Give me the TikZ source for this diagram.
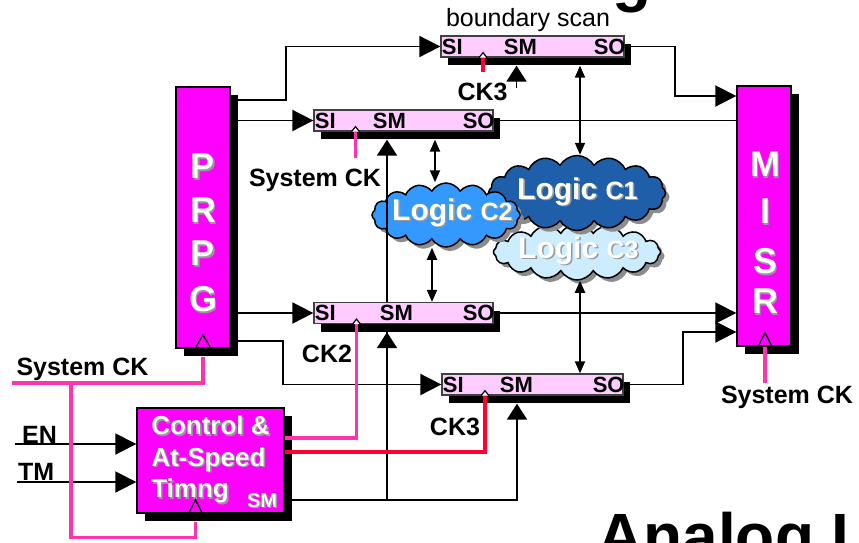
\documentclass[tikz,border=0pt]{standalone}
\usepackage{fontspec}
\setmainfont{Liberation Sans}
\usetikzlibrary{arrows.meta,calc,shapes.symbols,shadows}
\definecolor{blkmag}{RGB}{255,0,255}
\definecolor{regpink}{RGB}{255,204,255}
\definecolor{clkpink}{RGB}{255,51,170}
\definecolor{clkredc}{RGB}{255,0,51}
\definecolor{logicone}{RGB}{31,95,170}
\definecolor{logictwo}{RGB}{51,153,255}
\definecolor{logicthree}{RGB}{204,236,255}

\pgfdeclarelayer{clouds}
\pgfdeclarelayer{wires}
\pgfsetlayers{clouds,wires,main}

% white text with a grey drop shadow
\newcommand{\shtxt}[1]{\leavevmode\rlap{\kern1.6pt\raisebox{-1.6pt}{\textcolor{black!40}{#1}}}\textcolor{white}{#1}}

\tikzset{
  blockbox/.style={draw=black, line width=1.4pt, fill=blkmag, inner sep=0pt,
    general shadow={fill=black, shadow xshift=8pt, shadow yshift=-8pt}},
  blocktxt/.style={inner sep=0pt, font=\fontsize{36}{40}\selectfont\bfseries},
  regbox/.style={draw=black!75, line width=1.3pt, fill=regpink, minimum height=21pt, inner sep=0pt,
    general shadow={fill=black, shadow xshift=7pt, shadow yshift=-8pt}},
  reglbl/.style={inner sep=0pt, font=\fontsize{22}{26}\selectfont\bfseries},
  logic/.style={cloud, cloud puffs=16, cloud puff arc=120, cloud ignores aspect, draw=black,
    line width=1.5pt, inner sep=0pt,
    general shadow={fill=black!45, shadow xshift=4pt, shadow yshift=-4pt}},
  logictxt/.style={inner sep=0pt, anchor=base west, font=\fontsize{30}{36}\selectfont\bfseries},
  lbl/.style={inner sep=0pt, anchor=base, font=\fontsize{25}{30}\selectfont\bfseries},
  wire/.style={line width=1.9pt},
  sig/.style={wire, -{Triangle[length=21pt,width=21pt]}},
  smsig/.style={wire, -{Triangle[length=16pt,width=20pt]}},
  dbl/.style={wire, {Triangle[length=12pt,width=10pt]}-{Triangle[length=12pt,width=10pt]}},
  clkline/.style={line width=3.5pt, clkpink},
  clkred/.style={line width=3.5pt, clkredc},
  clkmark/.style={draw=black, line width=1.2pt, fill=white},
}

\begin{document}
\begin{tikzpicture}[x=1pt,y=-1pt]
    \useasboundingbox (0,0) rectangle (859,542);

    % blocks
    \node[blockbox, minimum width=54pt, minimum height=261pt] (prpg) at (203,217.5) {};
    \foreach \ltr/\yy [count=\i] in {P/167,R/211,P/254,G/300}
        \node[blocktxt] (prpg\i) at (203,\yy) {\shtxt{\ltr}};
    \node[blockbox, minimum width=54pt, minimum height=260pt] (misr) at (764,216) {};
    \foreach \ltr/\yy [count=\i] in {M/165,I/212,S/262,R/302}
        \node[blocktxt] (misr\i) at (765,\yy) {\shtxt{\ltr}};
    \node[blockbox, minimum width=147pt, minimum height=105pt, align=left,
          font=\fontsize{26}{31.5}\selectfont\bfseries] (ctrl) at (210.5,460.5)
          {\shtxt{Control \&}\\\shtxt{At-Speed}\\\shtxt{Timng}};
    \node[inner sep=0pt, font=\fontsize{20}{24}\selectfont\bfseries] (ctrlsm) at (262,501) {\shtxt{SM}};

    % scan registers
    \node[regbox, minimum width=183pt] (regA) at (532.5,46.5) {};
    \node[regbox, minimum width=179pt] (regB) at (403.5,120.5) {};
    \node[regbox, minimum width=179pt] (regC) at (403.5,313) {};
    \node[regbox, minimum width=181pt] (regD) at (532.5,384.5) {};
    \foreach \rg/\smx in {regA/80,regB/76,regC/83,regD/75} {
        \node[reglbl] (\rg-si) at ($(\rg.west)+(12,0)$) {SI};
        \node[reglbl] (\rg-sm) at ($(\rg.west)+(\smx,0)$) {SM};
        \node[reglbl] (\rg-so) at ($(\rg.east)+(-15,0)$) {SO};
        \coordinate (\rg-sh) at ($(\rg.south)+(0,8)$);
    }

    % logic clouds
    \begin{pgfonlayer}{clouds}
        \node[logic, fill=logicthree, minimum width=167pt, minimum height=56pt] (c3) at (577,252) {};
        \node[logictxt] (c3txt) at (518,258) {\shtxt{Logic {\fontsize{25}{30}\selectfont C3}}};
        \node[logic, fill=logicone, minimum width=177pt, minimum height=75pt] (c1) at (577,193) {};
        \node[logictxt] (c1txt) at (517,199) {\shtxt{Logic {\fontsize{25}{30}\selectfont C1}}};
        \node[logic, fill=logictwo, minimum width=148pt, minimum height=64pt] (c2) at (446,215) {};
        \node[logictxt] (c2txt) at (392,220) {\shtxt{Logic {\fontsize{25}{30}\selectfont C2}}};
    \end{pgfonlayer}

    \coordinate (en) at (15,444);
    \coordinate (tm) at (17,482);
    \coordinate (smtap) at (387,500);
    \coordinate (sysck) at (12,383);

    \begin{pgfonlayer}{wires}
        \draw[sig] (prpg.east |- 0,100) -- ++(55,0) |- (regA.west);
        \draw[sig] (prpg.east |- regB.west) -- (regB.west);
        \draw[sig] (prpg.east |- regC.west) -- (regC.west);
        \draw[sig] (prpg.east |- 0,341) -- ++(52,0) |- (regD.west);
        \draw[sig] (regA.east) -- ++(50,0) |- (misr.west |- 0,96);
        \draw[wire] (regB.east) -- (regB.east -| misr.west);
        \draw[sig] (regC.east) -- (regC.east -| misr.west);
        \draw[sig] (regD.east) -- ++(59,0) |- (misr.west |- 0,332);
        \draw[sig] (en) -- (en -| ctrl.west);
        \draw[sig] (tm) -- (tm -| ctrl.west);
        \draw[smsig] (ctrl.east |- smtap) -| ($(regD-sh)+(-15.5,0)$);
        \draw[smsig] (smtap) -- (regC-sh -| smtap);
        \draw[smsig] (smtap) -- (regB-sh -| smtap);
        \draw[smsig] ($(regA-sh)+(-16,22)$) -- ($(regA-sh)+(-16,0)$);
        \draw[dbl] (regA-sh -| 580,0) -- (c1.north -| 580,0);
        \draw[dbl] (regB-sh -| 435,0) -- (c2.north -| 435,0);
        \draw[dbl] (c2.south -| 432,0) -- (regC.north -| 432,0);
        \draw[dbl] (c3.south -| 580,0) -- (regD.north -| 580,0);
    \end{pgfonlayer}

    % clocks
    \draw[clkline] (sysck) -| ($(prpg.south)+(0,8)$);
    \draw[clkline] ($(ctrl.south)+(-15,8)$) -- ++(0,16) -| ($(sysck)+(59,0)$);
    \draw[clkline] ($(misr.south)+(1,0)$) -- ++(0,36);
    \draw[clkline] ($(regB.south)+(-48,0)$) -- ++(0,26);
    \draw[clkred] ($(regA.south)+(-49.5,0)$) -- ++(0,14);
    \draw[clkline] (ctrl.east |- 0,438) -| ($(regC.south)+(-47,0)$);
    \draw[clkred] (ctrl.east |- 0,452) -| ($(regD.south)+(-47.5,0)$);
    \draw[line width=1.3pt] ($(prpg.south)+(-8,0)$) -- ++(8,-14) -- ++(8,14);
    \draw[line width=1.3pt] ($(misr.south)+(-6,0)$) -- ++(7,-14) -- ++(7,14);
    \draw[line width=1.3pt] ($(ctrl.south)+(-22,0)$) -- ++(7,-14) -- ++(7,14);
    \foreach \rg/\ck in {regA/-49.5,regB/-48,regC/-47,regD/-47.5}
        \draw[clkmark] ($(\rg.south)+(\ck-4,0)$) -- ++(4,-5) -- ++(4,5);

    % labels
    \node[lbl, font=\fontsize{25}{30}\selectfont] (bscan) at (528,26) {boundary scan};
    \node[lbl] (ck3a) at (482.5,100) {CK3};
    \node[lbl] (sysckb) at (315,186) {System CK};
    \node[lbl] (ck2) at (327,362) {CK2};
    \node[lbl] (ck3b) at (455,435) {CK3};
    \node[lbl] (syscka) at (82.5,375) {System CK};
    \node[lbl] (sysckc) at (787,403) {System CK};
    \node[lbl, anchor=base west] (enlbl) at (22,443) {EN};
    \node[lbl, anchor=base west] (tmlbl) at (18,480) {TM};

    % slide title pieces cut by the frame
    \node[inner sep=0pt, anchor=base west, font=\fontsize{64}{70}\selectfont\bfseries] (ttl) at (612,-1) {g};
    \node[inner sep=0pt, anchor=base west, font=\fontsize{64}{70}\selectfont\bfseries] (analog) at (597,558) {Analog I};
\end{tikzpicture}
\end{document}
